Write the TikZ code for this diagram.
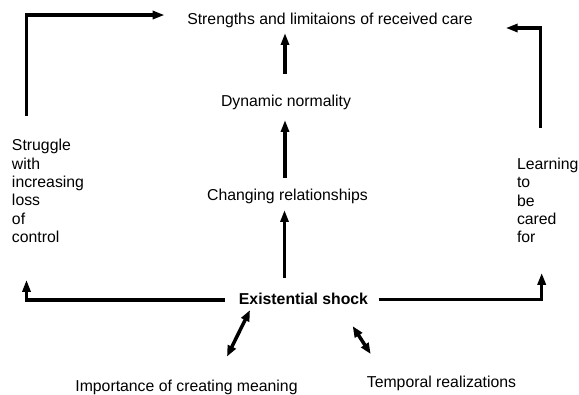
\documentclass[tikz,border=0pt]{standalone}
\usepackage{fontspec}
\setmainfont{Liberation Sans}
\usetikzlibrary{arrows.meta,calc}
\tikzset{
  lbl/.style={inner sep=0pt, outer sep=0pt, anchor=base, font=\fontsize{15.8}{18.3}\selectfont},
  blk/.style={inner sep=0pt, outer sep=0pt, anchor=north west, align=left, font=\fontsize{15.8}{18.3}\selectfont},
  arr/.style={line width=3.5pt, line join=miter, -{Triangle[length=12pt,width=8pt]}},
  darr/.style={line width=3.5pt, {Triangle[length=11pt,width=8.5pt]}-{Triangle[length=11pt,width=8.5pt]}}
}
\begin{document}
\begin{tikzpicture}[x=1pt,y=-1pt]
\useasboundingbox[fill=white] (0,0) rectangle (579,395);
\node[lbl] (str) at (330,25) {Strengths and limitaions of received care};
\node[lbl] (dyn) at (286,107) {Dynamic normality};
\node[lbl] (chg) at (287.5,201) {Changing relationships};
\node[lbl,font=\fontsize{15.8}{18.3}\selectfont\bfseries] (ex) at (303.5,305) {Existential shock};
\node[lbl] (imp) at (186.5,391.3) {Importance of creating meaning};
\node[lbl] (tmp) at (441.5,387.5) {Temporal realizations};
\node[blk] (strug) at (12,139.5) {Struggle\\with\\increasing\\loss\\of\\control};
\node[blk] (learn) at (517,158) {Learning\\to\\be\\cared\\for};
% connectors
\draw[arr] ($(strug.north west)+(14.7,-23.5)$) |- ($(str.west)+(-22.7,-5.9)$);
\draw[arr] ($(learn.north west)+(23.7,-30)$) |- ($(str.east)+(33,7.1)$);
\draw[arr] ($(dyn.north)+(-1,-21.5)$) -- ($(str.south -| dyn.north)+(-1,4.7)$);
\draw[arr] ($(chg.north)+(-2.5,-11.5)$) -- ($(dyn.south -| chg.north)+(-2.5,9.7)$);
\draw[arr] ($(ex.north -| chg.south)+(-3,-15.5)$) -- ($(chg.south)+(-3,5.7)$);
\draw[arr] ($(ex.west)+(-14,0.5)$) -| ($(strug.south west)+(14.5,37.3)$);
\draw[arr] ($(ex.east)+(10.5,0)$) -| ($(learn.south west)+(24.7,30)$);
\draw[darr] ($(ex.south)+(-53.5,5)$) -- ($(imp.north)+(40.5,-23.3)$);
\draw[darr] ($(ex.south)+(49.2,21)$) -- ($(tmp.north)+(-70.8,-22)$);
\end{tikzpicture}
\end{document}
